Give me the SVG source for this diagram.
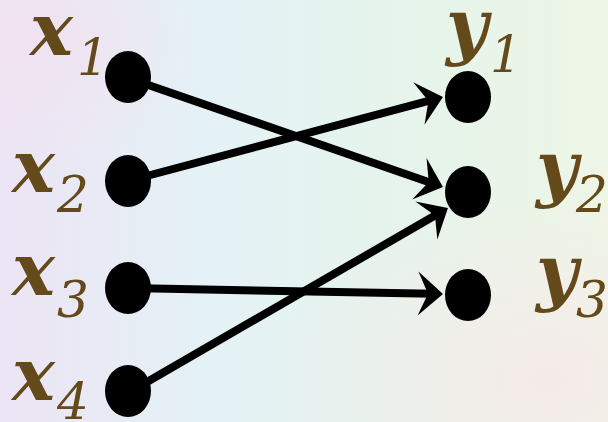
<svg xmlns="http://www.w3.org/2000/svg" width="608" height="422" viewBox="0 0 608 422">
  <defs>
    <linearGradient id="bg" x1="0" y1="0" x2="1" y2="0">
      <stop offset="0" stop-color="#ece4f4"/>
      <stop offset="0.35" stop-color="#e4f2f6"/>
      <stop offset="0.7" stop-color="#e6f4ea"/>
      <stop offset="1" stop-color="#eef6e6"/>
    </linearGradient>
    <radialGradient id="pinkBR" cx="0.9" cy="0.9" r="0.45">
      <stop offset="0" stop-color="#f6eaea" stop-opacity="0.9"/>
      <stop offset="1" stop-color="#f6eaea" stop-opacity="0"/>
    </radialGradient>
    <radialGradient id="pinkTL" cx="0.02" cy="0.1" r="0.3">
      <stop offset="0" stop-color="#f2e2f0" stop-opacity="0.9"/>
      <stop offset="1" stop-color="#f2e2f0" stop-opacity="0"/>
    </radialGradient>
    <marker id="arr" markerUnits="userSpaceOnUse" markerWidth="40" markerHeight="40" refX="0" refY="0" orient="auto" overflow="visible">
      <path d="M10,0 L-15,-22 L-5,0 L-15,22 Z" fill="#000"/>
    </marker>
    <style>
      .dot { fill: #000; }
      .edge { stroke: #000; stroke-width: 8; fill: none; marker-end: url(#arr); }
      text { font-family: "DejaVu Serif", "Liberation Serif", serif; font-style: italic; fill: #64491a; }
      .main { font-size: 72px; font-weight: bold; }
      .sub { font-size: 50px; }
    </style>
  </defs>
  <rect x="0" y="0" width="608" height="422" fill="url(#bg)"/>
  <rect x="0" y="0" width="608" height="422" fill="url(#pinkBR)"/>
  <rect x="0" y="0" width="608" height="422" fill="url(#pinkTL)"/>

  <g id="connectors">
    <line class="edge" x1="128" y1="78" x2="433.5" y2="183.7"/>
    <line class="edge" x1="128" y1="181" x2="433.3" y2="99.6"/>
    <line class="edge" x1="128" y1="288" x2="433" y2="293.8"/>
    <line class="edge" x1="128" y1="393" x2="439.3" y2="213"/>
  </g>

  <g id="x1">
    <ellipse class="dot" cx="128" cy="77" rx="23" ry="26"/>
    <text x="30" y="55" class="main">x</text>
    <text x="77" y="75" class="sub">1</text>
  </g>
  <g id="x2">
    <ellipse class="dot" cx="128" cy="181" rx="23" ry="26"/>
    <text x="12" y="192" class="main">x</text>
    <text x="57" y="212" class="sub">2</text>
  </g>
  <g id="x3">
    <ellipse class="dot" cx="128" cy="288" rx="23" ry="26"/>
    <text x="12" y="295" class="main">x</text>
    <text x="57" y="317" class="sub">3</text>
  </g>
  <g id="x4">
    <ellipse class="dot" cx="128" cy="391" rx="23" ry="26"/>
    <text x="12" y="400" class="main">x</text>
    <text x="57" y="419" class="sub">4</text>
  </g>
  <g id="y1">
    <ellipse class="dot" cx="468" cy="97" rx="23" ry="26"/>
    <text x="446" y="51" class="main">y</text>
    <text x="490" y="72" class="sub">1</text>
  </g>
  <g id="y2">
    <ellipse class="dot" cx="468" cy="192" rx="23" ry="26"/>
    <text x="536" y="193" class="main">y</text>
    <text x="576" y="212" class="sub">2</text>
  </g>
  <g id="y3">
    <ellipse class="dot" cx="468" cy="295" rx="23" ry="26"/>
    <text x="536" y="297" class="main">y</text>
    <text x="576" y="317" class="sub">3</text>
  </g>
</svg>
